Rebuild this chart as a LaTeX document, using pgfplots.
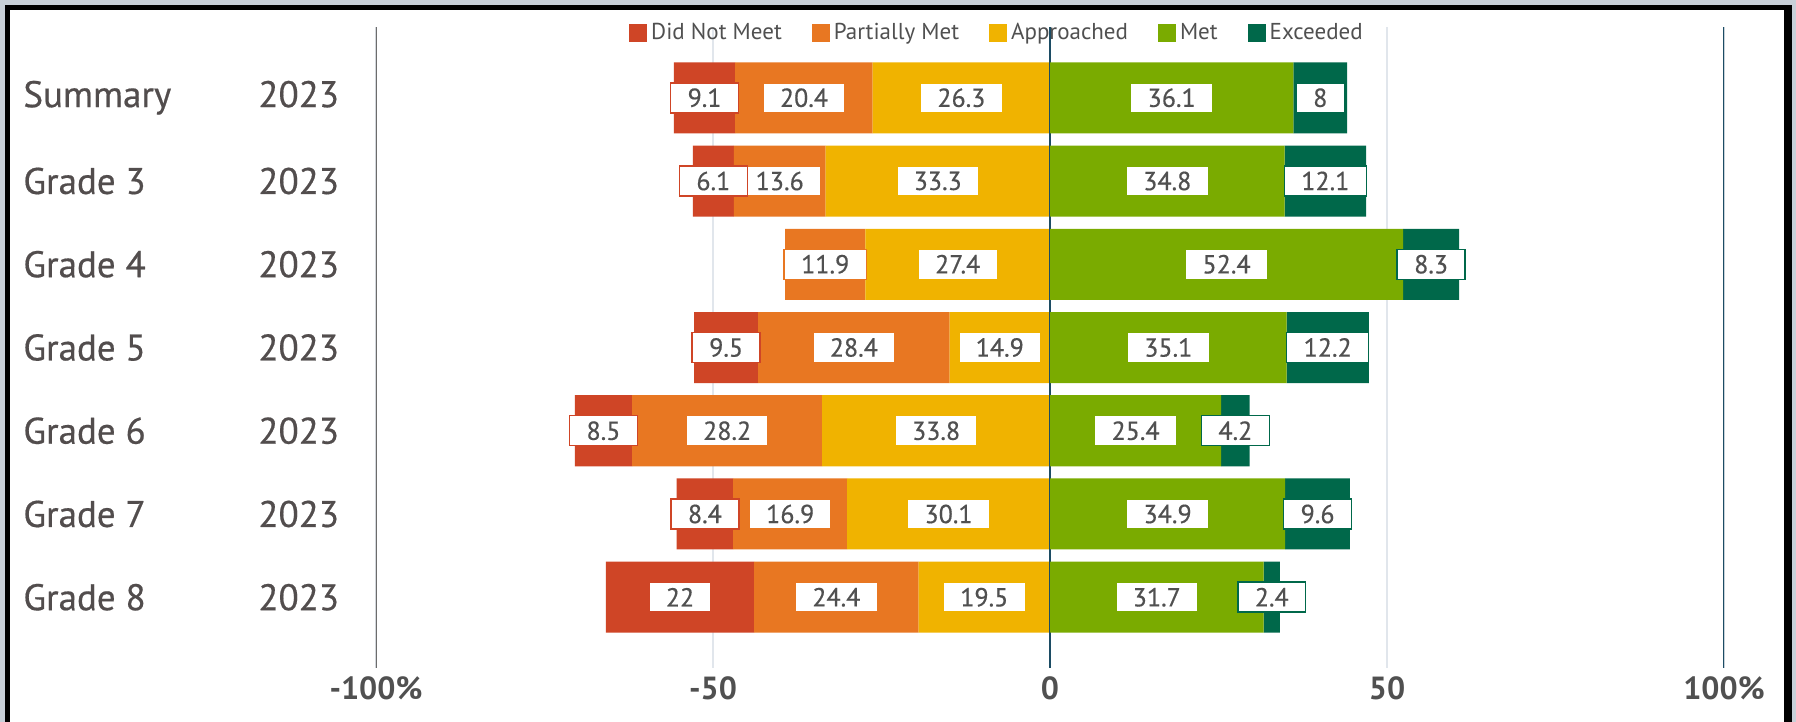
\documentclass[border=0pt]{standalone}
\usepackage{fontspec}
\setmainfont{PT Sans}
\newfontfamily\medium{PT Sans}[FakeBold=0.5]
\usepackage{pgfplots}
\usepackage{pgfplotstable}
\pgfplotsset{compat=1.18}

\definecolor{dnmcol}{RGB}{207,69,38}
\definecolor{pmcol}{RGB}{232,119,34}
\definecolor{appcol}{RGB}{240,179,0}
\definecolor{metcol}{RGB}{122,171,0}
\definecolor{exccol}{RGB}{0,104,74}
\definecolor{labelgray}{RGB}{80,80,80}
\definecolor{rowgray}{RGB}{82,77,77}
\definecolor{gridgray}{RGB}{225,230,236}
\definecolor{zeroline}{RGB}{28,76,100}
\definecolor{frameout}{RGB}{200,208,216}

% values per row: Summary, Grade 3 ... Grade 8 (Grade 4 has no Did Not Meet bar)
\pgfplotstableread{
row dnm  pm   app  met  exc
0   9.1  20.4 26.3 36.1 8
1   6.1  13.6 33.3 34.8 12.1
2   0    11.9 27.4 52.4 8.3
3   9.5  28.4 14.9 35.1 12.2
4   8.5  28.2 33.8 25.4 4.2
5   8.4  16.9 30.1 34.9 9.6
6   22   24.4 19.5 31.7 2.4
}\scores

\pgfplotsset{
  geom/.style={
    at={(188pt,27pt)}, anchor=south west,
    scale only axis, width=674pt, height=320.5pt,
    xmin=-100, xmax=100, ymin=-0.85, ymax=6.85, y dir=reverse,
    /pgf/number format/assume math mode=true,
  },
  bars/.style={geom, xbar stacked, bar width=35.5pt},
  lab/.style={
    only marks, mark=none, point meta=explicit,
    nodes near coords={\pgfmathprintnumber{\pgfplotspointmeta}},
    every node near coord/.append style={
      fill=white, draw=#1, line width=0.75pt, text=labelgray,
      font=\medium\fontsize{13}{15}\selectfont,
      inner xsep=8.5pt, inner ysep=0pt, minimum height=15pt, anchor=center},
  },
}

\begin{document}
\begin{tikzpicture}[x=0.5pt,y=0.5pt]
\fill[frameout] (0,0) rectangle (1796,722);
\fill[black] (5,0) rectangle (1792,717);
\fill[white] (10,0) rectangle (1784,712);

% negative side: Approached, Partially Met, Did Not Meet
\begin{axis}[bars,
    axis line style={draw=none}, major tick length=0pt,
    xtick={-100,-50,0,50,100},
    xticklabels={-100\%,-50,0,50,100\%},
    xticklabel style={font=\bfseries\fontsize{16}{18}\selectfont, text=labelgray,
      anchor=north, inner sep=0pt, yshift=-4pt},
    ytick={0,...,6},
    yticklabels={
      {\makebox[117.5pt][l]{Summary}2023},
      {\makebox[117.5pt][l]{Grade 3}2023},
      {\makebox[117.5pt][l]{Grade 4}2023},
      {\makebox[117.5pt][l]{Grade 5}2023},
      {\makebox[117.5pt][l]{Grade 6}2023},
      {\makebox[117.5pt][l]{Grade 7}2023},
      {\makebox[117.5pt][l]{Grade 8}2023}},
    yticklabel style={font=\medium\fontsize{18.5}{20}\selectfont, text=rowgray,
      anchor=west, inner sep=0pt, xshift=-176.5pt},
    xmajorgrids, grid style={gridgray, line width=0.75pt},
]
\draw[gray!85!black, line width=0.75pt] (axis cs:-100,-0.85) -- (axis cs:-100,6.85);
\draw[zeroline, line width=1pt] (axis cs:0,-0.85) -- (axis cs:0,6.85);
\draw[zeroline, line width=1.1pt] (axis cs:100,-0.85) -- (axis cs:100,6.85);

\addplot[fill=appcol, draw=none] table[x expr=-\thisrow{app}, y=row] {\scores};
\addplot[fill=pmcol, draw=none] table[x expr=-\thisrow{pm}, y=row] {\scores};
\addplot[fill=dnmcol, draw=none] table[x expr=-\thisrow{dnm}, y=row] {\scores};
\end{axis}

% positive side: Met, Exceeded
\begin{axis}[bars, hide axis,
    legend columns=5,
    legend style={at={(0.4614,0.991)}, anchor=center, draw=none, fill=none,
      font=\fontsize{11.5}{13}\selectfont, text=labelgray,
      /tikz/every even column/.append style={column sep=13pt}},
    legend image code/.code={\fill[#1] (0pt,-4.5pt) rectangle (9pt,4.5pt);},
]
\addlegendimage{fill=dnmcol, draw=none}\addlegendentry{Did Not Meet}
\addlegendimage{fill=pmcol, draw=none}\addlegendentry{Partially Met}
\addlegendimage{fill=appcol, draw=none}\addlegendentry{Approached}
\addplot[fill=metcol, draw=none] table[x=met, y=row] {\scores};
\addlegendentry{Met}
\addplot[fill=exccol, draw=none] table[x=exc, y=row] {\scores};
\addlegendentry{Exceeded}
\end{axis}

% value labels at the middle of each segment
\begin{axis}[geom, hide axis]
\addplot[lab=appcol] table[x expr=-\thisrow{app}/2, y=row, meta=app] {\scores};
\addplot[lab=pmcol] table[x expr=-\thisrow{app}-\thisrow{pm}/2, y=row, meta=pm] {\scores};
\addplot[lab=dnmcol, restrict expr to domain={\thisrow{dnm}}{0.01:100}]
  table[x expr=-\thisrow{app}-\thisrow{pm}-\thisrow{dnm}/2, y=row, meta=dnm] {\scores};
\addplot[lab=metcol] table[x expr=\thisrow{met}/2, y=row, meta=met] {\scores};
\addplot[lab=exccol] table[x expr=\thisrow{met}+\thisrow{exc}/2, y=row, meta=exc] {\scores};
\end{axis}
\end{tikzpicture}
\end{document}
